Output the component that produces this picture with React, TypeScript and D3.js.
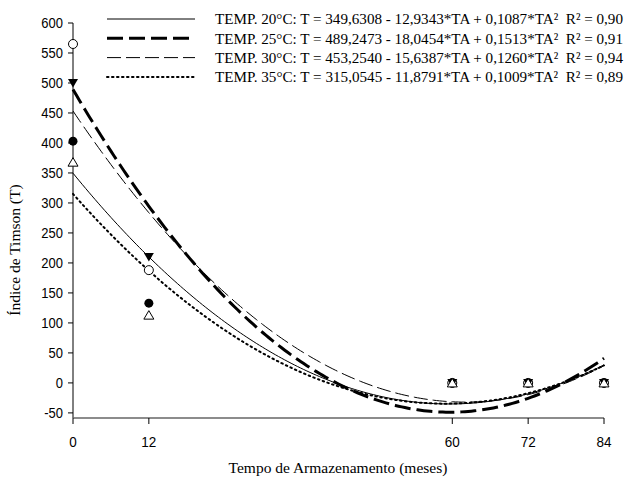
import React from 'react';
import * as d3 from 'd3';

const owidth = 632;
const oheight = 477;
const margin = { top: 23, right: 28, bottom: 59, left: 73 };
const iwidth = 604 - margin.left;
const iheight = 418 - margin.top;

const months = [0, 12, 60, 72, 84];
const xTicks = [0, 12, 60, 72, 84];
const yTicks = [-50, 0, 50, 100, 150, 200, 250, 300, 350, 400, 450, 500, 550, 600];

const temps = ['20', '25', '30', '35'];
const obs20 = [403, 133, 0, 0, 0];
const obs25 = [565, 188, 0, 0, 0];
const obs30 = [500, 210, 0, 0, 0];
const obs35 = [368, 113, 0, 0, 0];
// fitted coefficients from the legend: a, b, c in T = a - b*TA + c*TA²
const coef20 = [349.6308, 12.9343, 0.1087];
const coef25 = [489.2473, 18.0454, 0.1513];
const coef30 = [453.254, 15.6387, 0.126];
const coef35 = [315.0545, 11.8791, 0.1009];
const legendText = [
  'TEMP. 20°C: T = 349,6308 - 12,9343*TA + 0,1087*TA²  R² = 0,90',
  'TEMP. 25°C: T = 489,2473 - 18,0454*TA + 0,1513*TA²  R² = 0,91',
  'TEMP. 30°C: T = 453,2540 - 15,6387*TA + 0,1260*TA²  R² = 0,94',
  'TEMP. 35°C: T = 315,0545 - 11,8791*TA + 0,1009*TA²  R² = 0,89',
];

const xScale = d3.scaleLinear().domain([0, 84]).range([0, iwidth]);
const yScale = d3.scaleLinear().domain([-58.5, 600]).range([iheight, 0]);

const lineStyles = [
  { w: 1, dash: null },
  { w: 3, dash: '16,6' },
  { w: 1, dash: '14,5' },
  { w: 2, dash: '1.5,3.5' },
];
const serif = '"Liberation Serif", "Times New Roman", serif';
const sans = '"Liberation Sans", Arial, sans-serif';

function Marker({ kind, x, y }) {
  const s = 5;
  if (kind === 0) return <circle cx={x} cy={y} r={4.5} fill="black" />;
  if (kind === 1) return <circle cx={x} cy={y} r={4.5} fill="white" stroke="black" strokeWidth={1} />;
  if (kind === 2)
    return <path d={`M${x - s},${y - s * 0.8}L${x + s},${y - s * 0.8}L${x},${y + s * 0.9}Z`} fill="black" />;
  return (
    <path d={`M${x - s},${y + s * 0.8}L${x + s},${y + s * 0.8}L${x},${y - s * 0.9}Z`} fill="white" stroke="black" strokeWidth={1} />
  );
}

export default function App() {
  const obs = [obs20, obs25, obs30, obs35];
  const coefs = [coef20, coef25, coef30, coef35];
  const ta = d3.range(0, 84.01, 0.5);
  const line = d3.line<number[]>().x(d => xScale(d[0])).y(d => yScale(d[1]));

  return (
    <svg width={owidth} height={oheight} viewBox={`0 0 ${owidth} ${oheight}`}
      style={{ position: 'absolute', left: 0, top: 0, background: 'white' }}>
      <g transform={`translate(${margin.left},${margin.top})`}>
        {/* y axis */}
        <line x1={0} x2={0} y1={0} y2={iheight} stroke="black" />
        {yTicks.map(t => (
          <g key={t} transform={`translate(0,${yScale(t)})`}>
            <line x1={-5} x2={0} stroke="black" />
            <text x={-10} dy="0.35em" textAnchor="end" fontFamily={sans} fontSize={13}
              transform="scale(1,1.15)">{t}</text>
          </g>
        ))}
        {/* x axis */}
        <line x1={0} x2={iwidth} y1={iheight} y2={iheight} stroke="#666" strokeWidth={1.5} />
        {xTicks.map(t => (
          <g key={t} transform={`translate(${xScale(t)},${iheight})`}>
            <line y1={0} y2={6} stroke="black" />
            <text y={25} textAnchor="middle" fontFamily={sans} fontSize={13.5}
              transform="scale(1,1.15)">{t}</text>
          </g>
        ))}
        {/* fitted curves */}
        {coefs.map((c, i) => (
          <path key={i}
            d={line(ta.map(t => [t, c[0] - c[1] * t + c[2] * t * t]))}
            fill="none" stroke="black" strokeWidth={lineStyles[i].w}
            strokeDasharray={lineStyles[i].dash || undefined}
            strokeLinecap={i === 3 ? 'round' : 'butt'} />
        ))}
        {/* observations */}
        {obs.map((vals, i) => vals.map((v, j) => (
          <Marker key={`${i}-${j}`} kind={i} x={xScale(months[j])} y={yScale(v)} />
        )))}
      </g>
      {/* legend */}
      {temps.map((t, i) => {
        const y = 19 + i * 19.3;
        return (
          <g key={t}>
            <line x1={107} x2={195} y1={y} y2={y} stroke="black" strokeWidth={lineStyles[i].w}
              strokeDasharray={lineStyles[i].dash || undefined}
              strokeLinecap={i === 3 ? 'round' : 'butt'} />
            <text x={215} y={y} dy="0.35em" fontFamily={serif} fontSize={15.3}
              textLength={408} lengthAdjust="spacingAndGlyphs"
              style={{ whiteSpace: 'pre' }}>{legendText[i]}</text>
          </g>
        );
      })}
      <text x={338} y={473} textAnchor="middle" fontFamily={serif} fontSize={15.5}>Tempo de Armazenamento (meses)</text>
      <text transform={`translate(20,${250}) rotate(-90)`} textAnchor="middle" fontFamily={serif} fontSize={15.5}>Índice de Timson (T)</text>
    </svg>
  );
}
